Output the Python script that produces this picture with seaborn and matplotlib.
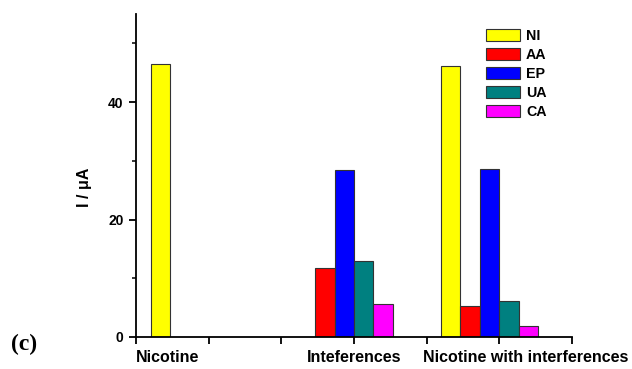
import numpy as np
import pandas as pd
import matplotlib
matplotlib.use("Agg")
import matplotlib.pyplot as plt
from matplotlib.patches import Patch
from matplotlib.ticker import FixedLocator, FixedFormatter
import seaborn as sns

nan = np.nan
categories = ["Nicotine", "Inteferences", "Nicotine with interferences"]
species = ["NI", "AA", "EP", "UA", "CA"]
ni = [46.5, nan, 46.2]
aa = [nan, 11.8, 5.2]
ep = [nan, 28.5, 28.6]
ua = [nan, 13.0, 6.2]
ca = [nan, 5.7, 1.8]
y_ticks = [0, 20, 40]
y_minor = [10, 30, 50]

colors = ["#FFFF00", "#FF0000", "#0000FF", "#008080", "#FF00FF"]

rows = []
for sp, vals in zip(species, [ni, aa, ep, ua, ca]):
    for cat, v in zip(categories, vals):
        rows.append({"cat": cat, "sp": sp, "val": v})
df = pd.DataFrame(rows)

sns.set_style("ticks")
plt.rcParams["font.family"] = ["Liberation Sans", "DejaVu Sans"]
plt.rcParams["font.weight"] = "bold"
plt.rcParams["text.color"] = "black"
plt.rcParams["axes.labelcolor"] = "black"
plt.rcParams["xtick.color"] = "black"
plt.rcParams["ytick.color"] = "black"

fig = plt.figure(figsize=(6.32, 3.69), dpi=100)
ax = fig.add_axes([136/632, 1-337/369, 436/632, 323/369])

sns.barplot(data=df.dropna(), x="cat", y="val", hue="sp", order=categories,
            hue_order=species, palette=colors, width=0.667, dodge=True,
            saturation=1, errorbar=None, edgecolor="#333333", linewidth=0.8,
            ax=ax, legend=False)

xl = (-0.4337, 2.568)
ax.set_xlim(*xl)
ax.set_ylim(0, 55)
sns.despine(ax=ax)
for s in ["left", "bottom"]:
    ax.spines[s].set_linewidth(1.3)
    ax.spines[s].set_color("black")

ax.xaxis.set_major_locator(FixedLocator([xl[0] + 0.5*k for k in range(7)]))
ax.set_xticklabels([""] * 7)
ax.xaxis.set_minor_locator(FixedLocator([-0.213, 1.069, 2.251]))
ax.xaxis.set_minor_formatter(FixedFormatter(categories))
ax.tick_params(axis="x", which="major", length=5, width=1.3, direction="out")
ax.tick_params(axis="x", which="minor", length=0, pad=9, labelsize=11.5)
for t in ax.xaxis.get_minorticklabels():
    t.set_fontweight("bold")
    t.set_color("black")

ax.set_yticks(y_ticks)
ax.set_yticks(y_minor, minor=True)
ax.tick_params(axis="y", which="major", length=5, width=1.3, labelsize=10, pad=4)
ax.tick_params(axis="y", which="minor", length=3, width=1.1)
for t in ax.get_yticklabels():
    t.set_fontweight("bold")
    t.set_color("black")

ax.set_xlabel("")
ax.set_ylabel("I / μA", fontsize=11.5, fontweight="bold", color="black")
ax.yaxis.set_label_coords(-0.101, 0.463)

handles = [Patch(facecolor=c, edgecolor="#333333", linewidth=0.8) for c in colors]
leg = ax.legend(handles, species, loc="upper left", bbox_to_anchor=(486/632, 1-29/369),
                bbox_transform=fig.transFigure, frameon=False, fontsize=10.3,
                handlelength=2.4, handleheight=0.9, labelspacing=0.35,
                handletextpad=0.4, borderpad=0, borderaxespad=0)
for t in leg.get_texts():
    t.set_fontweight("bold")
    t.set_color("black")

fig.text(11/632, 1-344/369, "(c)", family="Liberation Serif", fontweight="bold",
         fontsize=17, va="center", ha="left", color="black")

fig.savefig("out.png", dpi=100)
